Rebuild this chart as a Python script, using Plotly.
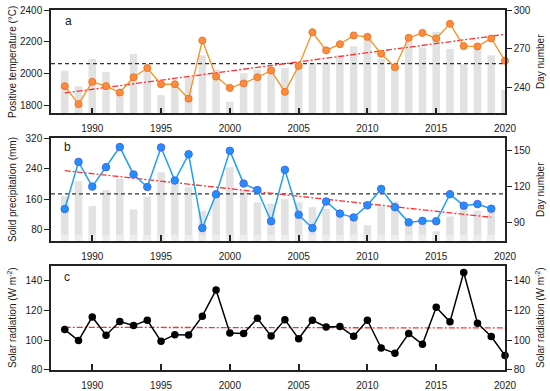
import numpy as np
import plotly.graph_objects as go

# ---------------- data ----------------
YEARS_A = list(range(1988, 2021))
TEMP = [1921, 1808, 1948, 1921, 1881, 1977, 2035, 1933, 1933, 1842, 2208, 1981,
        1910, 1938, 1977, 2019, 1885, 2048, 2260, 2146, 2185, 2240, 2231, 2125,
        2040, 2225, 2256, 2221, 2313, 2173, 2171, 2221, 2081]
DAYS_A = [253, 241, 262, 252, 236, 266, 253, 234, 241, 248, 265, 254,
          229, 251, 254, 256, 255, 258, 259, 260, 265, 272, 277, 262,
          258, 277, 271, 283, 270, 258, 269, 265, 238]

YEARS_B = list(range(1988, 2020))
PRECIP = [134, 258, 193, 244, 297, 225, 192, 296, 209, 278, 84, 173,
          287, 201, 184, 102, 237, 119, 84, 154, 122, 112, 144, 187,
          139, 99, 103, 102, 173, 143, 147, 135]
DAYS_B = [112, 124.5, 104, 117.3, 126.3, 101, 111.8, 132, 122.7, 119.5, 100, 114.6,
          136, 117, 107, 105.8, 110, 107, 103, 101.7, 99, 96, 88, 103.6,
          107.7, 89.8, 92.6, 83, 95.3, 107, 100, 101]

YEARS_C = list(range(1988, 2021))
SOLAR = [107.2, 99.8, 115.7, 103.4, 112.6, 109.9, 113.5, 99.3, 103.8, 103.6, 116.2,
         133.9, 104.9, 104.5, 114.8, 102.9, 113.9, 101.1, 113.5, 109.0, 109.2, 102.7,
         113.5, 94.8, 91.2, 104.5, 97.3, 122.2, 112.4, 145.6, 111.5, 102.5, 89.7]

X_RANGE = [1987, 2020]
X_TICKS = [1990, 1995, 2000, 2005, 2010, 2015, 2020]
TEMP_RANGE, TEMP_TICKS = [1750, 2400], [1800, 2000, 2200, 2400]
DAYA_RANGE, DAYA_TICKS = [220, 300], [240, 270, 300]
PREC_RANGE, PREC_TICKS = [50, 320], [80, 160, 240, 320]
DAYB_RANGE, DAYB_TICKS = [75, 160], [90, 120, 150]
SOL_RANGE, SOL_TICKS = [80, 150], [80, 100, 120, 140]
BAR_FADE_B = 80  # lighter lower part of the bars in panel b

FONT = "Arial, Liberation Sans, sans-serif"
TXT = "#1a1a1a"
AX = "#222222"
BAR = "#E2E2E2"
ORANGE_L, ORANGE_F, ORANGE_E = "#F7911F", "#FF8B3D", "#EE7426"
BLUE_L, BLUE_F, BLUE_E = "#1BA1F3", "#1E90FF", "#4B63E8"
RED = "#FF3030"


def trend(xs, ys):
    k, b = np.polyfit(xs, ys, 1)
    xe = [xs[0], xs[-1]]
    return xe, [k * xe[0] + b, k * xe[1] + b]


fig = go.Figure()

# ---------- panel a ----------
fig.add_trace(go.Bar(x=YEARS_A, y=DAYS_A, xaxis="x", yaxis="y", width=0.55,
                     marker=dict(color=BAR, line=dict(width=0))))
fig.add_trace(go.Scatter(x=X_RANGE, y=[np.mean(TEMP)] * 2, xaxis="x", yaxis="y2",
                         mode="lines", line=dict(color="#333", width=1.3, dash="4px,3px")))
tx, ty = trend(YEARS_A, TEMP)
fig.add_trace(go.Scatter(x=tx, y=ty, xaxis="x", yaxis="y2", mode="lines",
                         line=dict(color=RED, width=1.3, dash="6px,2px,2px,2px")))
fig.add_trace(go.Scatter(x=YEARS_A, y=TEMP, xaxis="x", yaxis="y2", mode="lines+markers",
                         cliponaxis=False,
                         line=dict(color=ORANGE_L, width=1.3),
                         marker=dict(size=7, color=ORANGE_F, line=dict(color=ORANGE_E, width=1))))

# ---------- panel b ----------
fig.add_trace(go.Bar(x=YEARS_B, y=DAYS_B, xaxis="x2", yaxis="y3", width=0.55,
                     marker=dict(color=BAR, line=dict(width=0))))
fig.add_trace(go.Bar(x=YEARS_B, y=[BAR_FADE_B] * len(YEARS_B), xaxis="x2", yaxis="y3", width=0.55,
                     marker=dict(color="#EDEDED", line=dict(width=0))))
fig.add_trace(go.Scatter(x=X_RANGE, y=[np.mean(PRECIP)] * 2, xaxis="x2", yaxis="y4",
                         mode="lines", line=dict(color="#333", width=1.3, dash="4px,3px")))
tx, ty = trend(YEARS_B, PRECIP)
fig.add_trace(go.Scatter(x=tx, y=ty, xaxis="x2", yaxis="y4", mode="lines",
                         line=dict(color=RED, width=1.3, dash="6px,2px,2px,2px")))
fig.add_trace(go.Scatter(x=YEARS_B, y=PRECIP, xaxis="x2", yaxis="y4", mode="lines+markers",
                         cliponaxis=False,
                         line=dict(color=BLUE_L, width=1.5),
                         marker=dict(size=7.5, color=BLUE_F, line=dict(color=BLUE_E, width=1))))

# ---------- panel c ----------
tx, ty = trend(YEARS_C, SOLAR)
fig.add_trace(go.Scatter(x=tx, y=ty, xaxis="x3", yaxis="y5", mode="lines",
                         line=dict(color=RED, width=1.3, dash="6px,2px,2px,2px")))
fig.add_trace(go.Scatter(x=YEARS_C, y=SOLAR, xaxis="x3", yaxis="y5", mode="lines+markers",
                         cliponaxis=False,
                         line=dict(color="#000", width=1.5),
                         marker=dict(size=7.5, color="#000")))
fig.add_trace(go.Scatter(x=YEARS_C, y=SOLAR, xaxis="x3", yaxis="y6", mode="lines",
                         opacity=0, hoverinfo="skip", line=dict(width=0)))

# ---------- axes ----------
DOM_A = [0.713, 1.0]
DOM_B = [0.3583, 0.6436]
DOM_C = [0.0, 0.2889]

tickfont = dict(family=FONT, size=10, color=TXT)


def xax(anchor):
    return dict(anchor=anchor, domain=[0, 1], range=X_RANGE, tickvals=X_TICKS,
                ticks="inside", ticklen=6, tickwidth=1.5, tickcolor=AX,
                showline=True, linecolor=AX, linewidth=1.5, mirror=True,
                showgrid=False, zeroline=False, tickfont=tickfont,
                ticklabelstandoff=5, automargin=False)


def yax(dom, rng, ticks, side, anchor, overlaying=None):
    d = dict(domain=dom, range=rng, tickvals=ticks, side=side, anchor=anchor,
             ticks="outside", ticklen=5, tickwidth=1.3, tickcolor=AX,
             showline=True, linecolor=AX, linewidth=1.5,
             showgrid=False, zeroline=False, tickfont=tickfont, automargin=False)
    if overlaying:
        d["overlaying"] = overlaying
    return d


fig.update_layout(
    template="none",
    width=550, height=391,
    margin=dict(l=51, r=45, t=10, b=21, autoexpand=False),
    paper_bgcolor="white", plot_bgcolor="white",
    showlegend=False, barmode="overlay",
    font=dict(family=FONT, color=TXT),
    xaxis=xax("y"),
    xaxis2=xax("y3"),
    xaxis3=xax("y5"),
    yaxis=yax(DOM_A, DAYA_RANGE, DAYA_TICKS, "right", "x"),
    yaxis2=yax(DOM_A, TEMP_RANGE, TEMP_TICKS, "left", "x", overlaying="y"),
    yaxis3=yax(DOM_B, DAYB_RANGE, DAYB_TICKS, "right", "x2"),
    yaxis4=yax(DOM_B, PREC_RANGE, PREC_TICKS, "left", "x2", overlaying="y3"),
    yaxis5=yax(DOM_C, SOL_RANGE, SOL_TICKS, "left", "x3"),
    yaxis6=yax(DOM_C, SOL_RANGE, SOL_TICKS, "right", "x3", overlaying="y5"),
)

# axis titles and panel letters
W, H, L, T = 454.0, 360.0, 51.0, 10.0


def px(xp):
    return (xp - L) / W


def py(yp):
    return (T + H - yp) / H


titles = [
    (12, 62, "Positive temperature (°C)"),
    (540, 62, "Day number"),
    (12, 190, "Solid precipitation (mm)"),
    (540, 190, "Day number"),
    (12, 318, "Solar radiation (W m<sup>-2</sup>)"),
    (540, 318, "Solar radiation (W m<sup>-2</sup>)"),
]
for x, y, t in titles:
    fig.add_annotation(x=px(x), y=py(y), xref="paper", yref="paper", text=t,
                       textangle=-90, showarrow=False, xanchor="center", yanchor="middle",
                       font=dict(family=FONT, size=10, color=TXT))

for x, y, t in [(68, 21, "a"), (67, 147, "b"), (67, 277, "c")]:
    fig.add_annotation(x=px(x), y=py(y), xref="paper", yref="paper", text=t,
                       showarrow=False, xanchor="center", yanchor="middle",
                       font=dict(family=FONT, size=12, color=TXT))

# the page's default 8px body margin would shift the figure; remove it
fig.write_html("out.html",
               config={"displayModeBar": False},
               post_script="document.body.style.margin='0';document.body.style.overflow='hidden';")
